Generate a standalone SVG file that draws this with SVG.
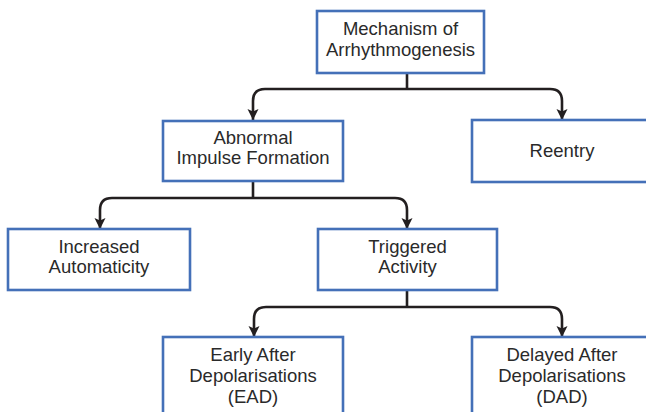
<svg xmlns="http://www.w3.org/2000/svg" width="646" height="412" viewBox="0 0 646 412">
  <style>
    .box { fill: #ffffff; stroke: #4470b8; stroke-width: 2.6; }
    .lbl { font-family: "Liberation Sans", Arial, sans-serif; font-size: 18.5px; fill: #2a2a2a; text-anchor: middle; }
    .conn { fill: none; stroke: #231f20; stroke-width: 2.6; }
  </style>
  <defs>
    <marker id="arr" markerUnits="userSpaceOnUse" markerWidth="12" markerHeight="12" refX="11" refY="6" orient="auto">
      <path d="M0,0.5 L11,6 L0,11.5 L2.5,6 Z" fill="#231f20"/>
    </marker>
  </defs>
  <rect width="646" height="412" fill="#ffffff"/>
  <g id="connectors">
    <path class="conn" d="M407,73 V89"/>
    <path class="conn" d="M407,89 H265 Q253,89 253,101 V120" marker-end="url(#arr)"/>
    <path class="conn" d="M407,89 H550 Q562,89 562,101 V120" marker-end="url(#arr)"/>
    <path class="conn" d="M253,181 V198"/>
    <path class="conn" d="M253,198 H112 Q100,198 100,210 V229" marker-end="url(#arr)"/>
    <path class="conn" d="M253,198 H395 Q407,198 407,210 V229" marker-end="url(#arr)"/>
    <path class="conn" d="M407,290 V307"/>
    <path class="conn" d="M407,307 H266 Q254,307 254,319 V337" marker-end="url(#arr)"/>
    <path class="conn" d="M407,307 H550 Q562,307 562,319 V337" marker-end="url(#arr)"/>
  </g>
  <g id="node-mechanism">
    <rect class="box" x="317" y="11" width="167" height="62"/>
    <text class="lbl" x="400.5" y="35">Mechanism of</text>
    <text class="lbl" x="400.5" y="56">Arrhythmogenesis</text>
  </g>
  <g id="node-abnormal">
    <rect class="box" x="163" y="121" width="180" height="60"/>
    <text class="lbl" x="253" y="144">Abnormal</text>
    <text class="lbl" x="253" y="164">Impulse Formation</text>
  </g>
  <g id="node-reentry">
    <rect class="box" x="472" y="120" width="200" height="62"/>
    <text class="lbl" x="562" y="157">Reentry</text>
  </g>
  <g id="node-increased">
    <rect class="box" x="8" y="229" width="182" height="61"/>
    <text class="lbl" x="99" y="253">Increased</text>
    <text class="lbl" x="99" y="273">Automaticity</text>
  </g>
  <g id="node-triggered">
    <rect class="box" x="318" y="229" width="179" height="61"/>
    <text class="lbl" x="407.5" y="253">Triggered</text>
    <text class="lbl" x="407.5" y="273">Activity</text>
  </g>
  <g id="node-ead">
    <rect class="box" x="163" y="337" width="180" height="90"/>
    <text class="lbl" x="253" y="361">Early After</text>
    <text class="lbl" x="253" y="382">Depolarisations</text>
    <text class="lbl" x="253" y="403">(EAD)</text>
  </g>
  <g id="node-dad">
    <rect class="box" x="472" y="337" width="200" height="90"/>
    <text class="lbl" x="562" y="361">Delayed After</text>
    <text class="lbl" x="562" y="382">Depolarisations</text>
    <text class="lbl" x="562" y="403">(DAD)</text>
  </g>
</svg>
